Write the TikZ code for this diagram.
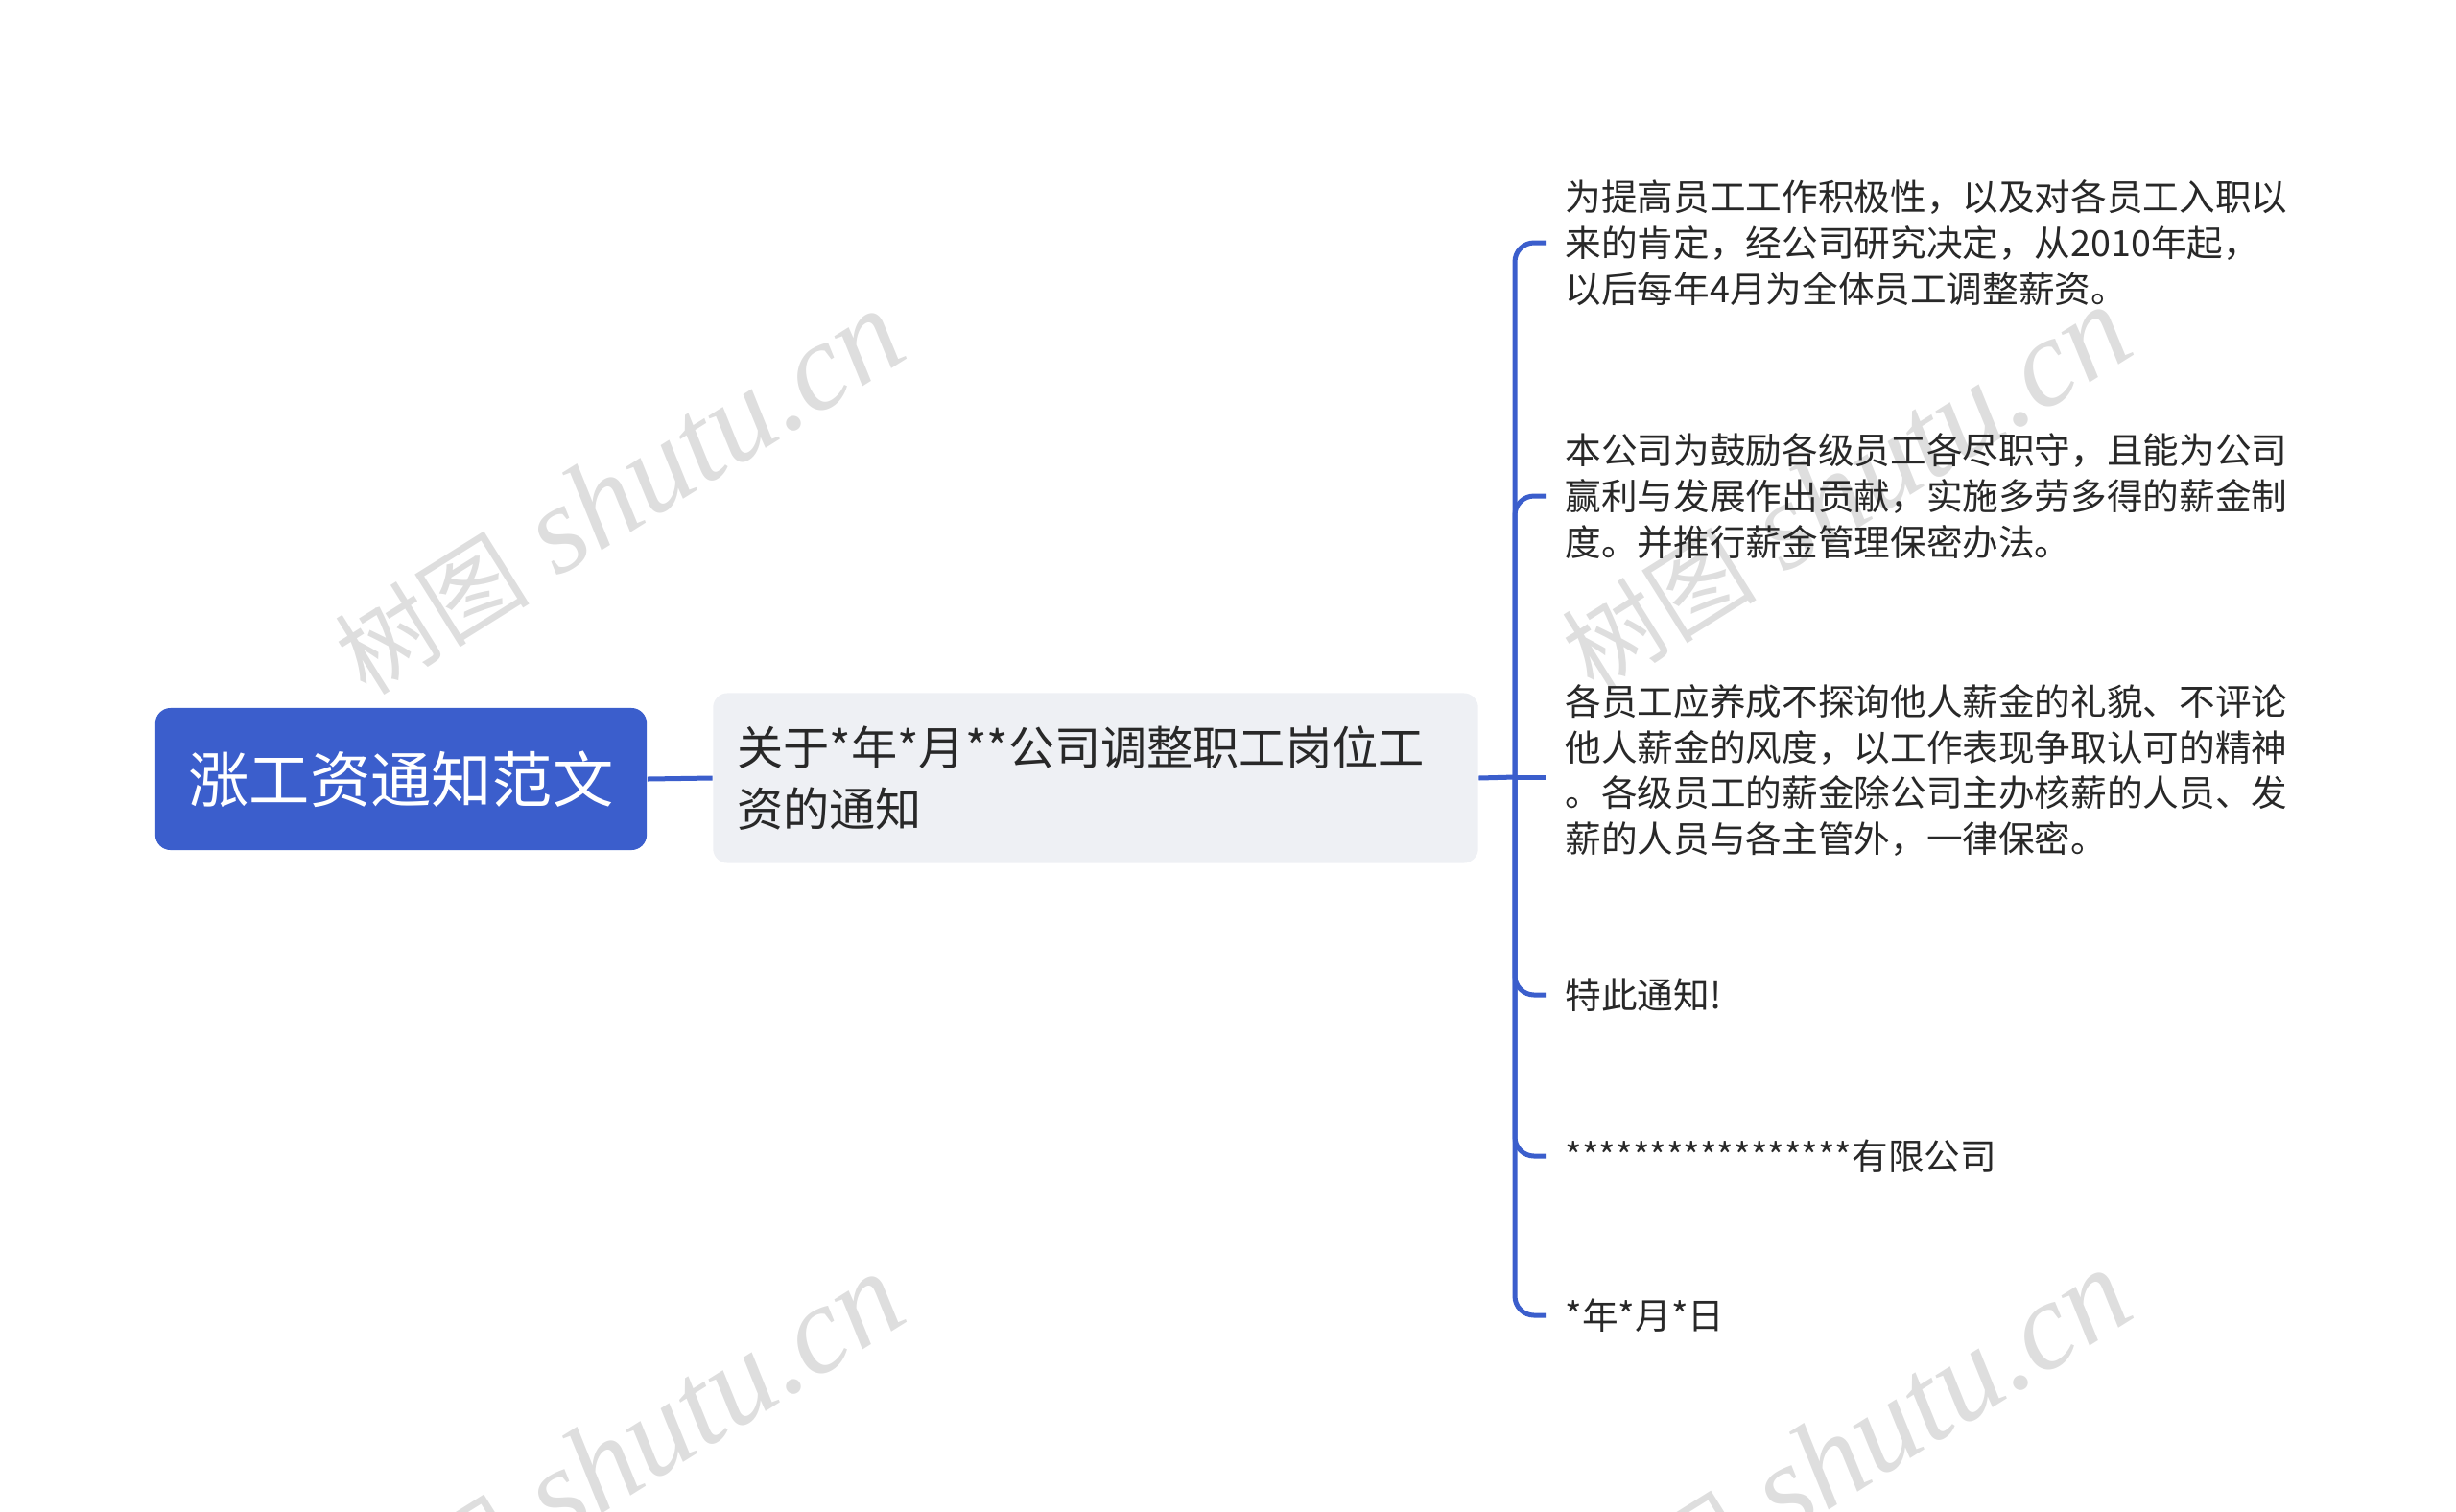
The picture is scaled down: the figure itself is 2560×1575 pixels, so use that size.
\documentclass[tikz,border=0pt]{standalone}
\usepackage{fontspec}
\setmainfont{Noto Sans CJK SC}
\newfontfamily\wmserif{Liberation Serif}
\usepackage{tikz}
\definecolor{rootblue}{RGB}{59,94,204}
\definecolor{midgray}{RGB}{238,240,244}
\definecolor{leaftext}{RGB}{40,40,40}
\definecolor{wmgray}{RGB}{222,222,222}

\begin{document}
\begin{tikzpicture}[x=0.01cm, y=-0.01cm,
	rootnode/.style={fill=rootblue, rounded corners=0.16cm, text=white, minimum width=5.12cm, minimum height=1.48cm, font=\fontsize{18pt}{22pt}\selectfont},
	midnode/.style={fill=midgray, rounded corners=0.15cm, text=leaftext, text width=7.47cm, minimum height=1.77cm, inner xsep=0.25cm, align=left, font=\fontsize{13.7pt}{18.1pt}\selectfont},
	leafnode/.style={anchor=west, inner xsep=0.2cm, inner ysep=0pt, text=leaftext, align=left, font=\fontsize{10.7pt}{13.6pt}\selectfont},
	link/.style={draw=rootblue, line width=0.05cm, rounded corners=0.2cm},
	wmark/.style={text=wmgray, rotate=32, font=\fontsize{37pt}{42pt}\selectfont}]
	\useasboundingbox (0,0) rectangle (2560,1575);
	\clip (0,0) rectangle (2560,1575);
	\node[wmark] (wm1) at (645,514) {{\fontsize{29pt}{32pt}\selectfont 树图} {\wmserif\itshape shutu.cn}};
	\node[wmark] (wm2) at (1924,510) {{\fontsize{29pt}{32pt}\selectfont 树图} {\wmserif\itshape shutu.cn}};
	\node[wmark] (wm3) at (645,1518) {{\fontsize{29pt}{32pt}\selectfont 树图} {\wmserif\itshape shutu.cn}};
	\node[wmark] (wm4) at (1924,1514) {{\fontsize{29pt}{32pt}\selectfont 树图} {\wmserif\itshape shutu.cn}};
	\node[rootnode] (root) at (418,812) {涨工资通知范文};
	\node[midnode] (notice) at (1142,811) {关于*年*月**公司调整职工岗位工\\资的通知};
	\coordinate (hub) at (1579,810);
	\node[leafnode] (reason) at (1611,253) {为提高员工工作积极性，以及对各员工入职以\\来的肯定，经公司研究决定，从2010年起，\\以后每年4月为全体员工调整薪资。};
	\node[leafnode] (policy) at (1611,517) {本公司为鼓励各级员工各尽职守，且能为公司\\赢利与发展作出贡献，实施多劳多得的薪金制\\度。并推行薪金管理保密办法。};
	\node[leafnode] (secret) at (1611,803) {各员工应养成不探询他人薪金的礼貌、不评论\\他人薪金的风度，以工作表现争取认可的精神\\。各级员工的薪金除公司主办核薪的人员、发\\薪的人员与各主管外，一律保密。};
	\node[leafnode] (hereby) at (1611,1037) {特此通知!};
	\node[leafnode] (company) at (1611,1205) {*****************有限公司};
	\node[leafnode] (date) at (1611,1371) {*年*月*日};
	\draw[link] (root.east) -- (notice.west);
	\draw[link] (notice.east) -- (hub);
	\draw[link] (hub) |- (reason.west);
	\draw[link] (hub) |- (policy.west);
	\draw[link] (hub) -- (hub -| secret.west);
	\draw[link] (hub) |- (hereby.west);
	\draw[link] (hub) |- (company.west);
	\draw[link] (hub) |- (date.west);
\end{tikzpicture}
\end{document}
